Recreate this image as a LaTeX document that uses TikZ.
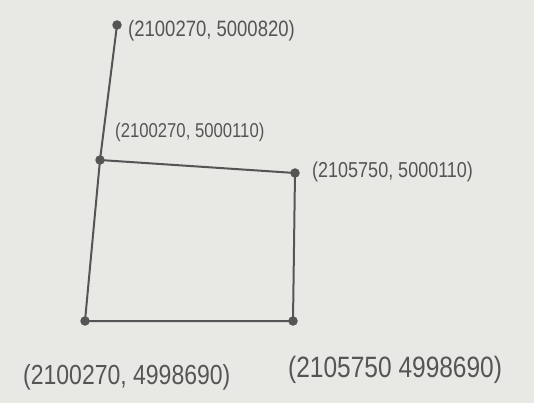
\documentclass[tikz,border=0pt]{standalone}
\usepackage{fontspec}
\setmainfont{Liberation Sans}
\definecolor{paper}{RGB}{232,232,229}
\definecolor{pencil}{RGB}{85,85,85}
\begin{document}
\begin{tikzpicture}[x=1pt,y=-1pt,
  stroke/.style={draw=pencil,line width=2pt,line cap=round,line join=round},
  pt/.style={circle,fill=pencil,inner sep=0pt,minimum size=9.5pt},
  lbl/.style={anchor=west,inner sep=0pt,text=pencil,yscale=1.2}]
\fill[paper] (0,0) rectangle (534,403);
\useasboundingbox (0,0) rectangle (534,403);
\node[pt] (top) at (117,25) {};
\node[pt] (tl) at (100,160) {};
\node[pt] (tr) at (295,173) {};
\node[pt] (br) at (293,321) {};
\node[pt] (bl) at (85,321) {};
\draw[stroke] (top.center) -- (tl.center);
\draw[stroke] (tl.center) -- (tr.center) -- (br.center) -- (bl.center) -- cycle;
\node[lbl,font=\fontsize{18.5}{20}\selectfont] (ltop) at (128,31) {(2100270, 5000820)};
\node[lbl,font=\fontsize{16.7}{18}\selectfont] (ltl) at (115,132) {(2100270, 5000110)};
\node[lbl,font=\fontsize{18}{20}\selectfont] (ltr) at (312,172) {(2105750, 5000110)};
\node[lbl,font=\fontsize{23}{25}\selectfont] (lbl) at (23,377) {(2100270, 4998690)};
\node[lbl,font=\fontsize{24.5}{26}\selectfont] (lbr) at (288,370) {(2105750 4998690)};
\end{tikzpicture}
\end{document}
